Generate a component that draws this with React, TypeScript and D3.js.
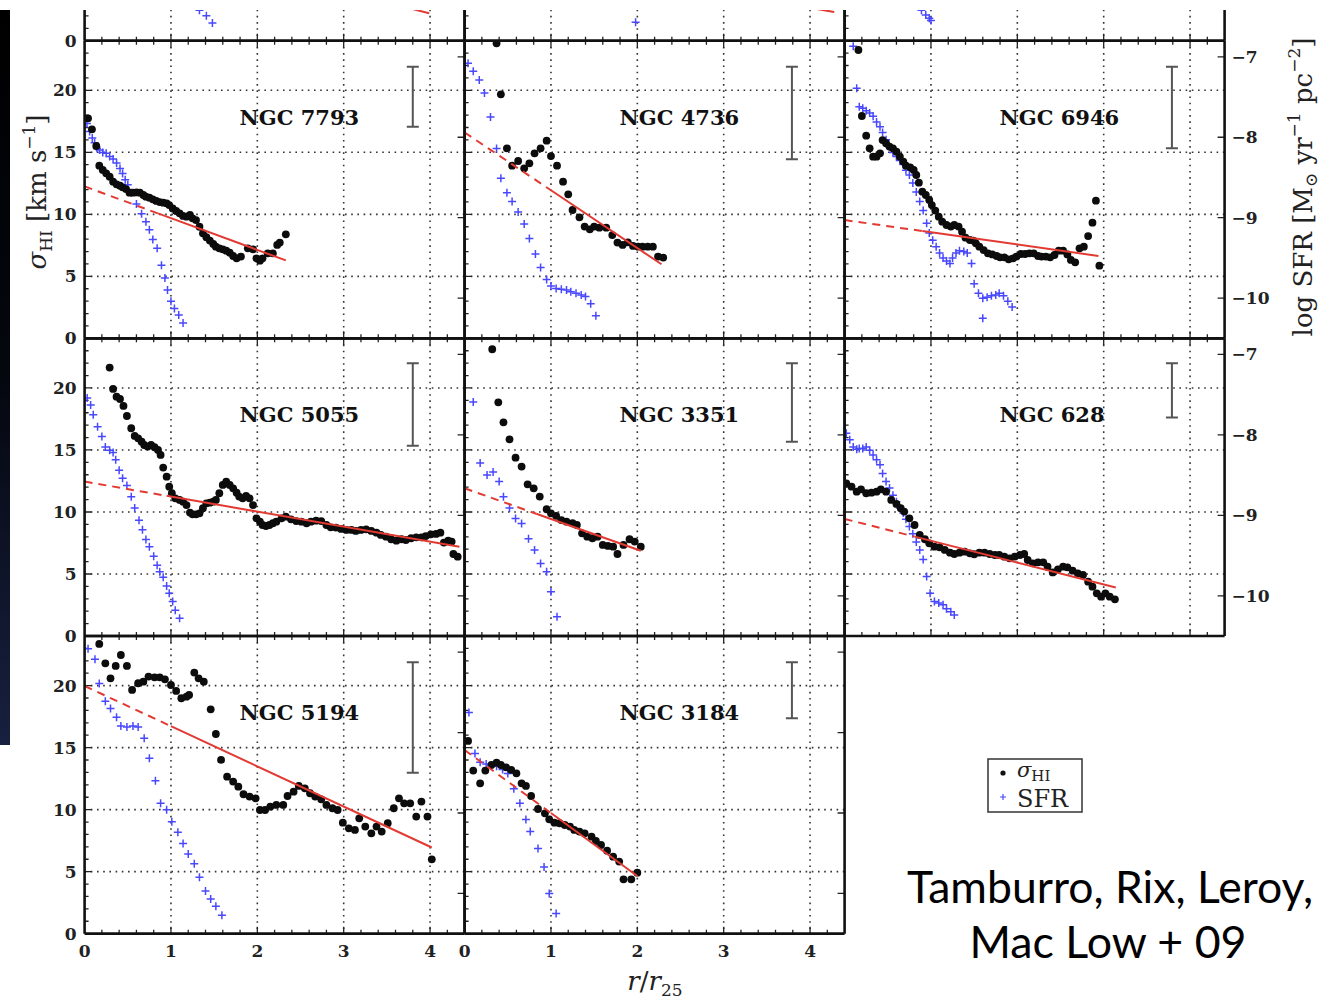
import React, { useEffect } from "react";
import * as d3 from "d3";

type P = [number, number];

// ---------- data (r/r25, value) ----------
const sigma7793: P[] = [[0.04,17.74],[0.085,16.85],[0.135,15.51],[0.17,13.92],[0.21,13.58],[0.25,13.31],[0.29,13.04],[0.33,12.63],[0.37,12.42],[0.41,12.31],[0.44,12.18],[0.48,12.04],[0.52,11.75],[0.56,11.75],[0.6,11.77],[0.64,11.75],[0.68,11.56],[0.71,11.42],[0.75,11.34],[0.79,11.21],[0.83,11.08],[0.87,10.99],[0.91,10.94],[0.95,10.89],[0.98,10.75],[1.02,10.48],[1.06,10.27],[1.1,10.08],[1.14,9.87],[1.18,9.81],[1.22,9.95],[1.25,9.68],[1.29,9.54],[1.33,9.0],[1.37,8.47],[1.41,8.15],[1.45,7.88],[1.49,7.61],[1.52,7.39],[1.56,7.26],[1.6,7.18],[1.64,7.07],[1.68,6.91],[1.72,6.64],[1.76,6.45],[1.81,6.59],[1.89,7.26],[1.95,7.18],[1.99,6.45],[2.03,6.26],[2.06,6.45],[2.12,6.85],[2.18,6.85],[2.23,7.53],[2.26,7.72],[2.33,8.39]];
const sfr7793: P[] = [[0.027,-7.83],[0.058,-7.93],[0.089,-8.01],[0.116,-8.07],[0.143,-8.14],[0.174,-8.16],[0.21,-8.19],[0.25,-8.2],[0.29,-8.24],[0.33,-8.27],[0.37,-8.32],[0.41,-8.39],[0.44,-8.45],[0.47,-8.53],[0.5,-8.59],[0.54,-8.69],[0.6,-8.83],[0.66,-8.95],[0.71,-9.05],[0.75,-9.15],[0.79,-9.27],[0.84,-9.38],[0.89,-9.59],[0.93,-9.75],[0.96,-9.9],[1.0,-10.04],[1.04,-10.13],[1.09,-10.21],[1.14,-10.31]];

const sigma4736: P[] = [[0.37,23.79],[0.42,19.68],[0.49,15.32],[0.55,13.92],[0.62,14.3],[0.69,13.71],[0.75,14.11],[0.81,14.92],[0.88,15.32],[0.95,15.94],[1.0,14.7],[1.07,13.92],[1.14,12.63],[1.2,11.61],[1.25,10.35],[1.33,9.76],[1.39,9.01],[1.45,8.79],[1.5,9.01],[1.56,8.92],[1.64,8.92],[1.71,8.33],[1.77,7.72],[1.83,7.53],[1.89,7.74],[1.95,7.45],[2.01,7.39],[2.06,7.39],[2.12,7.39],[2.18,7.39],[2.24,6.59],[2.3,6.51]];
const sfr4736: P[] = [[0.04,-7.08],[0.1,-7.18],[0.17,-7.29],[0.23,-7.45],[0.3,-7.75],[0.37,-8.14],[0.42,-8.51],[0.49,-8.69],[0.55,-8.8],[0.62,-8.93],[0.69,-9.08],[0.75,-9.26],[0.82,-9.45],[0.88,-9.62],[0.95,-9.77],[1.0,-9.85],[1.06,-9.88],[1.12,-9.89],[1.18,-9.9],[1.23,-9.92],[1.29,-9.94],[1.35,-9.96],[1.4,-9.98],[1.46,-10.07],[1.52,-10.22]];

const sigma6946: P[] = [[0.16,23.25],[0.2,17.93],[0.25,16.34],[0.29,15.32],[0.33,14.65],[0.37,14.65],[0.41,14.92],[0.44,15.99],[0.48,15.73],[0.52,15.46],[0.56,15.32],[0.6,15.05],[0.64,14.65],[0.68,14.25],[0.71,13.92],[0.76,13.79],[0.8,13.58],[0.83,13.17],[0.86,12.55],[0.9,11.83],[0.94,11.56],[0.98,11.16],[1.01,10.75],[1.05,10.3],[1.09,9.81],[1.13,9.41],[1.18,9.14],[1.23,9.01],[1.27,9.14],[1.32,9.01],[1.36,8.6],[1.4,8.12],[1.45,7.93],[1.49,7.88],[1.52,7.66],[1.56,7.39],[1.61,7.12],[1.66,6.85],[1.71,6.77],[1.76,6.64],[1.8,6.53],[1.85,6.53],[1.9,6.37],[1.95,6.45],[1.99,6.59],[2.04,6.8],[2.09,6.8],[2.14,6.85],[2.19,6.85],[2.24,6.64],[2.28,6.59],[2.33,6.59],[2.38,6.53],[2.43,6.72],[2.48,7.07],[2.53,7.07],[2.58,6.77],[2.62,6.32],[2.67,6.13],[2.72,7.26],[2.77,7.39],[2.82,8.25],[2.87,9.33],[2.91,11.1],[2.95,5.86]];
const sfr6946: P[] = [[0.1,-6.87],[0.14,-7.39],[0.17,-7.62],[0.21,-7.64],[0.25,-7.67],[0.29,-7.7],[0.33,-7.74],[0.37,-7.81],[0.41,-7.87],[0.44,-7.94],[0.48,-8.03],[0.52,-8.12],[0.56,-8.19],[0.6,-8.24],[0.64,-8.29],[0.68,-8.34],[0.71,-8.41],[0.75,-8.47],[0.79,-8.57],[0.83,-8.68],[0.87,-8.8],[0.91,-8.91],[0.95,-9.07],[0.98,-9.19],[1.02,-9.28],[1.06,-9.36],[1.1,-9.44],[1.14,-9.5],[1.18,-9.54],[1.22,-9.57],[1.25,-9.5],[1.29,-9.44],[1.33,-9.41],[1.38,-9.42],[1.42,-9.44],[1.47,-9.57],[1.5,-9.82],[1.55,-9.94],[1.6,-10.0],[1.65,-9.99],[1.7,-9.97],[1.75,-9.96],[1.79,-9.94],[1.84,-9.97],[1.89,-10.04],[1.94,-10.11],[1.6,-10.25]];

const sigma5055: P[] = [[0.29,21.64],[0.33,19.92],[0.37,19.3],[0.41,19.11],[0.45,18.55],[0.49,17.74],[0.54,16.75],[0.58,16.13],[0.62,15.94],[0.66,15.67],[0.69,15.4],[0.73,15.27],[0.77,15.4],[0.81,15.22],[0.85,15.0],[0.88,14.6],[0.91,13.58],[0.95,12.85],[0.98,12.04],[1.01,11.51],[1.05,11.1],[1.1,10.97],[1.14,10.83],[1.18,10.56],[1.22,9.95],[1.25,9.81],[1.29,9.81],[1.33,9.89],[1.37,10.3],[1.41,10.7],[1.45,10.75],[1.49,10.83],[1.52,10.97],[1.56,11.51],[1.6,12.18],[1.64,12.45],[1.68,12.18],[1.72,11.91],[1.76,11.56],[1.79,11.24],[1.83,11.1],[1.87,11.29],[1.91,11.1],[1.95,10.56],[1.99,9.49],[2.03,9.22],[2.06,8.95],[2.1,8.87],[2.14,8.95],[2.18,9.09],[2.22,9.22],[2.28,9.49],[2.33,9.62],[2.39,9.41],[2.45,9.27],[2.51,9.22],[2.57,9.09],[2.62,9.22],[2.68,9.3],[2.74,9.27],[2.8,8.95],[2.85,8.76],[2.91,8.74],[2.97,8.63],[3.03,8.55],[3.09,8.55],[3.14,8.47],[3.2,8.55],[3.26,8.6],[3.32,8.47],[3.38,8.33],[3.43,8.15],[3.49,8.01],[3.55,7.8],[3.61,7.69],[3.67,7.8],[3.72,7.74],[3.78,7.88],[3.84,7.96],[3.9,7.96],[3.95,8.06],[4.01,8.2],[4.07,8.23],[4.12,8.33],[4.16,7.53],[4.21,7.69],[4.25,7.61],[4.27,6.61],[4.32,6.4]];
const sfr5055: P[] = [[0.03,-7.54],[0.07,-7.63],[0.1,-7.75],[0.15,-7.9],[0.2,-8.02],[0.24,-8.15],[0.29,-8.19],[0.33,-8.22],[0.36,-8.31],[0.4,-8.44],[0.44,-8.54],[0.49,-8.63],[0.54,-8.77],[0.58,-8.91],[0.63,-9.06],[0.67,-9.18],[0.71,-9.3],[0.75,-9.39],[0.8,-9.51],[0.84,-9.62],[0.87,-9.7],[0.91,-9.77],[0.95,-9.88],[0.98,-9.97],[1.02,-10.07],[1.05,-10.18],[1.1,-10.28]];

const sigma3351: P[] = [[0.32,23.12],[0.39,18.84],[0.45,17.23],[0.52,15.86],[0.59,14.38],[0.66,13.66],[0.73,12.23],[0.8,11.91],[0.87,11.24],[0.95,10.22],[1.0,9.89],[1.06,9.68],[1.12,9.35],[1.18,9.22],[1.25,9.09],[1.3,8.95],[1.36,8.28],[1.42,8.01],[1.48,7.88],[1.54,8.01],[1.6,7.34],[1.66,7.26],[1.72,7.2],[1.77,6.61],[1.84,7.34],[1.91,7.8],[1.97,7.61],[2.04,7.2]];
const sfr3351: P[] = [[0.1,-7.59],[0.18,-8.35],[0.26,-8.5],[0.33,-8.46],[0.4,-8.58],[0.45,-8.77],[0.52,-8.91],[0.59,-9.04],[0.66,-9.1],[0.74,-9.29],[0.81,-9.43],[0.88,-9.6],[0.95,-9.7],[1.0,-9.95],[1.07,-10.26]];

const sigma628: P[] = [[0.02,12.31],[0.08,12.04],[0.14,11.64],[0.19,11.83],[0.25,11.51],[0.31,11.56],[0.37,11.64],[0.42,11.83],[0.48,11.64],[0.54,10.97],[0.6,10.65],[0.65,10.3],[0.69,10.03],[0.75,9.49],[0.81,8.95],[0.87,8.15],[0.93,7.8],[0.98,7.47],[1.04,7.2],[1.1,7.15],[1.16,6.94],[1.22,6.72],[1.27,6.61],[1.33,6.72],[1.39,6.8],[1.45,6.67],[1.5,6.59],[1.56,6.72],[1.62,6.72],[1.68,6.61],[1.74,6.53],[1.79,6.53],[1.85,6.4],[1.91,6.26],[1.97,6.4],[2.03,6.53],[2.08,6.61],[2.12,6.13],[2.18,5.86],[2.24,5.94],[2.3,5.94],[2.35,5.59],[2.41,5.13],[2.47,5.38],[2.53,5.59],[2.58,5.54],[2.64,5.27],[2.7,5.05],[2.76,4.92],[2.82,4.38],[2.87,3.98],[2.92,3.44],[2.97,3.17],[3.02,3.44],[3.07,3.17],[3.13,2.96]];
const sfr628: P[] = [[0.02,-7.98],[0.06,-8.06],[0.1,-8.15],[0.14,-8.18],[0.17,-8.17],[0.21,-8.17],[0.25,-8.15],[0.29,-8.19],[0.33,-8.25],[0.37,-8.31],[0.41,-8.37],[0.44,-8.48],[0.48,-8.58],[0.52,-8.66],[0.56,-8.75],[0.6,-8.83],[0.64,-8.91],[0.68,-8.97],[0.71,-9.05],[0.75,-9.14],[0.79,-9.23],[0.83,-9.33],[0.87,-9.43],[0.91,-9.55],[0.95,-9.76],[0.99,-9.97],[1.04,-10.07],[1.09,-10.09],[1.14,-10.11],[1.18,-10.16],[1.23,-10.2],[1.27,-10.24]];

const sigma5194: P[] = [[0.17,23.36],[0.24,21.8],[0.3,20.59],[0.36,21.59],[0.42,22.47],[0.49,21.59],[0.55,19.65],[0.62,20.19],[0.68,20.32],[0.74,20.73],[0.81,20.67],[0.87,20.67],[0.93,20.51],[1.0,20.05],[1.06,19.57],[1.12,18.98],[1.18,19.11],[1.21,19.25],[1.27,21.05],[1.32,20.59],[1.38,20.32],[1.46,18.09],[1.52,16.1],[1.58,14.01],[1.65,12.66],[1.72,12.26],[1.78,11.85],[1.84,11.24],[1.91,11.05],[1.98,10.91],[2.03,9.97],[2.09,9.97],[2.15,10.24],[2.22,10.38],[2.3,10.38],[2.35,11.1],[2.42,11.45],[2.48,11.91],[2.55,11.72],[2.61,11.32],[2.67,11.05],[2.74,10.83],[2.8,10.38],[2.87,10.11],[2.93,9.97],[2.99,8.95],[3.06,8.49],[3.13,8.36],[3.18,9.3],[3.25,8.63],[3.32,8.09],[3.38,8.63],[3.44,8.23],[3.51,8.9],[3.58,10.11],[3.64,10.91],[3.7,10.51],[3.77,10.51],[3.84,9.44],[3.9,10.65],[3.97,9.44],[4.02,5.99]];
const sfr5194: P[] = [[0.04,-6.96],[0.12,-7.09],[0.17,-7.39],[0.24,-7.61],[0.3,-7.7],[0.37,-7.81],[0.42,-7.92],[0.49,-7.93],[0.56,-7.92],[0.62,-7.93],[0.69,-8.07],[0.75,-8.32],[0.82,-8.6],[0.88,-8.88],[0.95,-8.96],[1.01,-9.11],[1.08,-9.24],[1.14,-9.38],[1.2,-9.51],[1.27,-9.63],[1.33,-9.8],[1.4,-9.97],[1.46,-10.07],[1.52,-10.16],[1.59,-10.27]];

const sigma3184: P[] = [[0.04,15.54],[0.1,13.15],[0.18,12.12],[0.24,13.15],[0.31,13.6],[0.37,13.79],[0.42,13.6],[0.48,13.41],[0.54,13.2],[0.6,12.93],[0.66,12.12],[0.71,11.91],[0.77,11.1],[0.85,10.05],[0.93,9.7],[0.98,9.22],[1.04,8.95],[1.1,8.9],[1.16,8.76],[1.22,8.63],[1.27,8.36],[1.33,8.23],[1.39,8.09],[1.47,7.82],[1.52,7.47],[1.58,7.15],[1.65,6.69],[1.72,6.21],[1.79,5.81],[1.84,4.38],[1.93,4.38],[2.0,4.92]];
const sfr3184: P[] = [[0.05,-7.75],[0.12,-8.26],[0.18,-8.37],[0.25,-8.39],[0.31,-8.41],[0.37,-8.42],[0.44,-8.46],[0.5,-8.51],[0.57,-8.7],[0.64,-8.88],[0.71,-9.08],[0.76,-9.23],[0.85,-9.44],[0.92,-9.67],[0.98,-10.0],[1.06,-10.25]];

// fragments of the panels of the row above (cut off by the page)
const sfrTopA: P[] = [[1.33,-10.12],[1.41,-10.19],[1.48,-10.28]];
const sfrTopB: P[] = [[1.98,-10.27]];
const sfrTopC: P[] = [[0.89,-10.12],[0.94,-10.18],[0.98,-10.22],[1.0,-10.25]];

// linear fits: [intercept, slope, start of solid part, end]
const fit7793 = [12.25, -2.56, 0.85, 2.33];
const fit4736 = [16.6, -4.66, 1.0, 2.28];
const fit6946 = [9.54, -0.986, 0.9, 2.94];
const fit5055 = [12.45, -1.21, 0.95, 4.34];
const fit3351 = [11.91, -2.47, 0.83, 2.04];
const fit628 = [9.44, -1.76, 0.81, 3.14];
const fit5194 = [19.97, -3.24, 1.0, 4.02];
const fit3184 = [14.81, -5.08, 1.0, 2.0];
const fitTopA = [9.39, -1.8, 1.0, 3.99];
const fitTopB = [7.45, -1.2, 1.0, 4.28];

// representative error bars: [r, sigma top, sigma bottom]
const err7793 = [3.8, 21.9, 17.07];
const err4736 = [3.79, 21.9, 14.44];
const err6946 = [3.79, 21.9, 15.32];
const err5055 = [3.8, 21.99, 15.35];
const err3351 = [3.79, 21.99, 15.67];
const err628 = [3.79, 21.99, 17.61];
const err5194 = [3.8, 21.88, 12.98];
const err3184 = [3.79, 21.88, 17.37];

const X_DOMAIN = [0, 4.4];
const Y_DOMAIN = [0, 24];
const SFR_DOMAIN = [-10.5, -6.8];
const xTickLabels = [0, 1, 2, 3, 4];
const yTickLabels = [0, 5, 10, 15, 20];
const sfrTickLabels = [-7, -8, -9, -10];

interface Panel {
  name: string; col: number; row: number;
  sigma: P[]; sfr: P[]; fit: number[] | null; err: number[] | null;
}

const panels: Panel[] = [
  { name: "", col: 0, row: 0, sigma: [], sfr: sfrTopA, fit: fitTopA, err: null },
  { name: "", col: 1, row: 0, sigma: [], sfr: sfrTopB, fit: fitTopB, err: null },
  { name: "", col: 2, row: 0, sigma: [], sfr: sfrTopC, fit: null, err: null },
  { name: "NGC 7793", col: 0, row: 1, sigma: sigma7793, sfr: sfr7793, fit: fit7793, err: err7793 },
  { name: "NGC 4736", col: 1, row: 1, sigma: sigma4736, sfr: sfr4736, fit: fit4736, err: err4736 },
  { name: "NGC 6946", col: 2, row: 1, sigma: sigma6946, sfr: sfr6946, fit: fit6946, err: err6946 },
  { name: "NGC 5055", col: 0, row: 2, sigma: sigma5055, sfr: sfr5055, fit: fit5055, err: err5055 },
  { name: "NGC 3351", col: 1, row: 2, sigma: sigma3351, sfr: sfr3351, fit: fit3351, err: err3351 },
  { name: "NGC 628", col: 2, row: 2, sigma: sigma628, sfr: sfr628, fit: fit628, err: err628 },
  { name: "NGC 5194", col: 0, row: 3, sigma: sigma5194, sfr: sfr5194, fit: fit5194, err: err5194 },
  { name: "NGC 3184", col: 1, row: 3, sigma: sigma3184, sfr: sfr3184, fit: fit3184, err: err3184 },
];

// ---------- layout ----------
const X0 = [84.6, 464.6, 844.6];
const W = 380;
const TOP1 = 40.7;
const H = 297.65;
const CLIP_TOP = 10;
const SERIF = "'DejaVu Serif', 'Liberation Serif', serif";
const BLUE = "#4848ff";
const RED = "#e23a33";

function PanelView({ p }: { p: Panel }) {
  const x0 = X0[p.col];
  const top = TOP1 + (p.row - 1) * H;
  const bottom = top + H;
  const x = d3.scaleLinear().domain(X_DOMAIN).range([x0, x0 + W]);
  const y = d3.scaleLinear().domain(Y_DOMAIN).range([bottom, top]);
  const s = d3.scaleLinear().domain(SFR_DOMAIN).range([bottom, top]);
  const visTop = Math.max(top, CLIP_TOP);
  const clipId = `clip-${p.col}-${p.row}`;
  const line = d3.line<P>().x((d) => x(d[0])).y((d) => y(d[1]));

  const xt = d3.range(1, 22).map((i) => ({ v: i * 0.2, major: i % 5 === 0 }));
  const yt = d3.range(1, 24).map((i) => ({ v: i, major: i % 5 === 0 }));

  let fitDash = "", fitSolid = "";
  if (p.fit) {
    const [a, b, xs, xe] = p.fit;
    fitDash = line([[0, a], [xs, a + b * xs]]) || "";
    fitSolid = line([[xs, a + b * xs], [xe, a + b * xe]]) || "";
  }

  return (
    <g>
      <clipPath id={clipId}>
        <rect x={x0} y={visTop} width={W} height={bottom - visTop} />
      </clipPath>
      <g clipPath={`url(#${clipId})`}>
        {[1, 2, 3, 4].map((v) => (
          <line key={"gx" + v} x1={x(v)} x2={x(v)} y1={top} y2={bottom}
            stroke="#333" strokeWidth={1.6} strokeDasharray="1.6 4.6" />
        ))}
        {[5, 10, 15, 20].map((v) => (
          <line key={"gy" + v} x1={x0} x2={x0 + W} y1={y(v)} y2={y(v)}
            stroke="#333" strokeWidth={1.6} strokeDasharray="1.6 4.6" />
        ))}
        {xt.map((t, i) => (
          <g key={"xt" + i}>
            <line x1={x(t.v)} x2={x(t.v)} y1={bottom} y2={bottom - (t.major ? 7 : 4)} stroke="#222" strokeWidth={1.3} />
            <line x1={x(t.v)} x2={x(t.v)} y1={top} y2={top + (t.major ? 7 : 4)} stroke="#222" strokeWidth={1.3} />
          </g>
        ))}
        {yt.map((t, i) => (
          <line key={"yt" + i} x1={x0} x2={x0 + (t.major ? 7 : 4)} y1={y(t.v)} y2={y(t.v)} stroke="#222" strokeWidth={1.3} />
        ))}
        {sfrTickLabels.map((v) => (
          <line key={"st" + v} x1={x0 + W} x2={x0 + W - 7} y1={s(v)} y2={s(v)} stroke="#222" strokeWidth={1.3} />
        ))}
        {p.sfr.map((d, i) => (
          <path key={"c" + i} d="M-4,0H4M0,-4V4" transform={`translate(${x(d[0])},${s(d[1])})`}
            stroke={BLUE} strokeWidth={1.5} fill="none" />
        ))}
        {p.sigma.map((d, i) => (
          <circle key={"d" + i} cx={x(d[0])} cy={y(d[1])} r={3.9} fill="#0c0c0c" />
        ))}
        {p.fit && (
          <g>
            <path d={fitDash} stroke={RED} strokeWidth={2} fill="none" strokeDasharray="8 6" />
            <path d={fitSolid} stroke={RED} strokeWidth={2} fill="none" />
          </g>
        )}
        {p.err && (
          <g stroke="#555" strokeWidth={2}>
            <line x1={x(p.err[0])} x2={x(p.err[0])} y1={y(p.err[1])} y2={y(p.err[2])} />
            <line x1={x(p.err[0]) - 6} x2={x(p.err[0]) + 6} y1={y(p.err[1])} y2={y(p.err[1])} />
            <line x1={x(p.err[0]) - 6} x2={x(p.err[0]) + 6} y1={y(p.err[2])} y2={y(p.err[2])} />
          </g>
        )}
        {p.name && (
          <text x={x0 + 155} y={top + 84} fontFamily={SERIF} fontWeight="bold" fontSize={21} fill="#111">
            {p.name}
          </text>
        )}
      </g>
      <line x1={x0} x2={x0} y1={visTop} y2={bottom} stroke="#111" strokeWidth={2.6} />
      <line x1={x0 + W} x2={x0 + W} y1={visTop} y2={bottom} stroke="#111" strokeWidth={2.6} />
      <line x1={x0} x2={x0 + W} y1={bottom} y2={bottom} stroke="#111" strokeWidth={2.6} />
      {top >= CLIP_TOP && <line x1={x0} x2={x0 + W} y1={top} y2={top} stroke="#111" strokeWidth={2.6} />}
      {p.col === 0 && yTickLabels.map((v) => (
        y(v) >= 0 ? (
          <text key={"yl" + v} x={x0 - 8} y={y(v) + 6} textAnchor="end" fontFamily={SERIF}
            fontWeight="bold" fontSize={17} fill="#222">{v}</text>
        ) : null
      ))}
      {p.row === 3 && xTickLabels.map((v) => (
        <text key={"xl" + v} x={x(v)} y={bottom + 23} textAnchor="middle" fontFamily={SERIF}
          fontWeight="bold" fontSize={17} fill="#222">{v}</text>
      ))}
      {p.col === 2 && p.row >= 1 && sfrTickLabels.map((v) => (
        <text key={"sl" + v} x={x0 + W + 7} y={s(v) + 6} textAnchor="start" fontFamily={SERIF}
          fontWeight="bold" fontSize={17} fill="#222">{"\u2212" + Math.abs(v)}</text>
      ))}
    </g>
  );
}

export default function App() {
  useEffect(() => {
    document.body.style.margin = "0";
    document.body.style.background = "#fff";
  }, []);

  return (
    <svg width={1331} height={1002} viewBox="0 0 1331 1002" style={{ display: "block", background: "#fff" }}>
      <defs>
        <linearGradient id="strip" x1="0" y1="0" x2="0" y2="1">
          <stop offset="0" stopColor="#000" />
          <stop offset="0.5" stopColor="#05070f" />
          <stop offset="1" stopColor="#17203f" />
        </linearGradient>
      </defs>
      <rect x={0} y={10} width={10} height={735} fill="url(#strip)" />

      {panels.map((p, i) => <PanelView key={i} p={p} />)}

      <text transform="translate(46,192) rotate(-90)" textAnchor="middle" fontFamily={SERIF} fontSize={26} fill="#222">
        <tspan fontStyle="italic">σ</tspan>
        <tspan fontSize={17} dy={6}>HI</tspan>
        <tspan dy={-6}> [km s</tspan>
        <tspan fontSize={17} dy={-11}>−1</tspan>
        <tspan dy={11}>]</tspan>
      </text>

      <text transform="translate(1312,187) rotate(-90)" textAnchor="middle" fontFamily={SERIF} fontSize={26} fill="#222">
        <tspan>log SFR [M</tspan>
        <tspan fontSize={17} dy={5}>⊙</tspan>
        <tspan dy={-5}> yr</tspan>
        <tspan fontSize={17} dy={-12}>−1</tspan>
        <tspan dy={12}> pc</tspan>
        <tspan fontSize={17} dy={-12}>−2</tspan>
        <tspan dy={12}>]</tspan>
      </text>

      <text x={655} y={990} textAnchor="middle" fontFamily={SERIF} fontSize={26} fill="#222">
        <tspan fontStyle="italic">r</tspan>
        <tspan>/</tspan>
        <tspan fontStyle="italic">r</tspan>
        <tspan fontSize={17} dy={6}>25</tspan>
      </text>

      <g>
        <rect x={988} y={759} width={94} height={53} fill="#fff" stroke="#333" strokeWidth={1.5} />
        <circle cx={1003} cy={773} r={2.6} fill="#111" />
        <text x={1017} y={777} fontFamily={SERIF} fontSize={21} fill="#222">
          <tspan fontStyle="italic">σ</tspan>
          <tspan fontSize={15} dy={4}>HI</tspan>
        </text>
        <path d="M-3,0H3M0,-3V3" transform="translate(1003,797)" stroke={BLUE} strokeWidth={1.2} />
        <text x={1017} y={807} fontFamily={SERIF} fontSize={24} fill="#222">SFR</text>
      </g>

      <text x={1110} y={903} textAnchor="middle" fontFamily="Lato, 'Open Sans', sans-serif" fontSize={44}
        fill="#000" textLength={406} lengthAdjust="spacingAndGlyphs">Tamburro, Rix, Leroy,</text>
      <text x={1108} y={958} textAnchor="middle" fontFamily="Lato, 'Open Sans', sans-serif" fontSize={44}
        fill="#000" textLength={277} lengthAdjust="spacingAndGlyphs">Mac Low + 09</text>
    </svg>
  );
}
